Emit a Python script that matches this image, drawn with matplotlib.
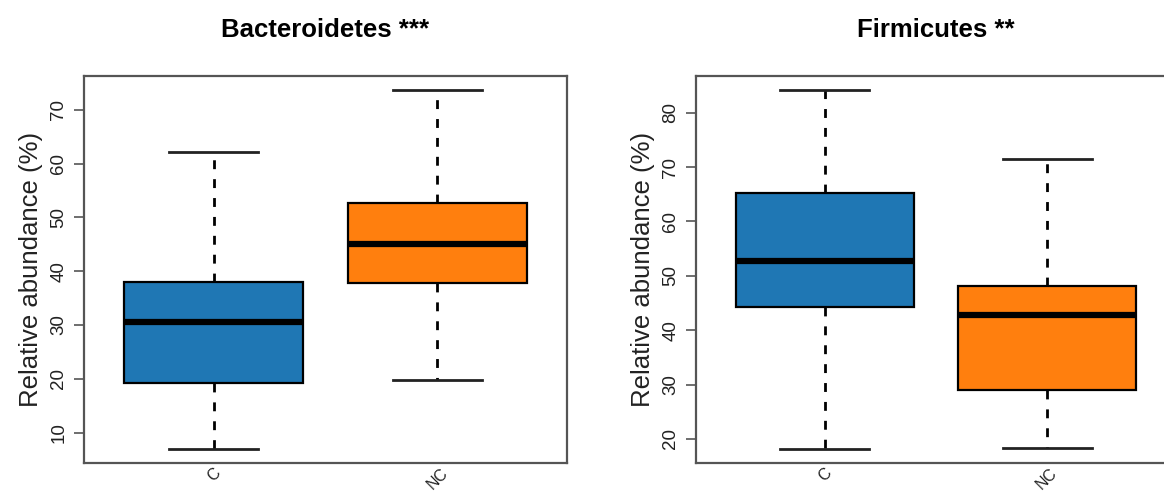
import matplotlib
matplotlib.use('Agg')
import matplotlib.pyplot as plt

plt.rcParams['font.family'] = ['Liberation Sans', 'DejaVu Sans']

groups = ['C', 'NC']
colors = ['#1f77b4', '#ff7f0e']

# Bacteroidetes: whislo, q1, median, q3, whishi
bact_lo = [7.0, 19.8]
bact_q1 = [19.2, 37.7]
bact_med = [30.5, 45.0]
bact_q3 = [38.0, 52.6]
bact_hi = [62.2, 73.6]

# Firmicutes
firm_lo = [18.2, 18.4]
firm_q1 = [44.2, 29.0]
firm_med = [52.8, 42.8]
firm_q3 = [65.2, 48.2]
firm_hi = [84.1, 71.5]

panels = [
    ('Bacteroidetes ***', bact_lo, bact_q1, bact_med, bact_q3, bact_hi, [10, 20, 30, 40, 50, 60, 70]),
    ('Firmicutes **', firm_lo, firm_q1, firm_med, firm_q3, firm_hi, [20, 30, 40, 50, 60, 70, 80]),
]

W, H = 1164, 493
fig = plt.figure(figsize=(W / 100, H / 100), dpi=100)
rects = [(84, 76, 567, 463), (696, 76, 1176, 463)]
spine_col = '#555555'

for (title, lo, q1, med, q3, hi, ticks), (x0, y0, x1, y1) in zip(panels, rects):
    ax = fig.add_axes([x0 / W, (H - y1) / H, (x1 - x0) / W, (y1 - y0) / H])
    stats = []
    for i, g in enumerate(groups):
        stats.append(dict(label=g, whislo=lo[i], q1=q1[i], med=med[i], q3=q3[i], whishi=hi[i], fliers=[]))
    bp = ax.bxp(stats, positions=[1, 2], widths=0.8, patch_artist=True, showfliers=False,
                boxprops=dict(edgecolor='black', linewidth=1.6),
                medianprops=dict(color='black', linewidth=4.5, solid_capstyle='butt'),
                whiskerprops=dict(color='black', linewidth=2, linestyle=(0, (3.2, 3.6))),
                capprops=dict(color='#222222', linewidth=2),
                capwidths=0.4)
    for patch, c in zip(bp['boxes'], colors):
        patch.set_facecolor(c)
    data_min = min(lo)
    data_max = max(hi)
    pad = (data_max - data_min) * 0.04
    ax.set_ylim(data_min - pad, data_max + pad)
    ax.set_xlim(0.42, 2.58)
    ax.set_yticks(ticks)
    ax.set_yticklabels([str(t) for t in ticks], rotation=90, va='center', fontsize=13.5, color='#222222')
    ax.set_xticks([1, 2])
    ax.set_xticklabels(groups, rotation=45, fontsize=11.5, color='#222222', ha='center')
    ax.tick_params(axis='x', length=0, pad=2)
    ax.tick_params(axis='y', length=7, width=1.2, color=spine_col, pad=5)
    for s in ax.spines.values():
        s.set_color(spine_col)
        s.set_linewidth(1.6)
    ax.set_ylabel('Relative abundance (%)', fontsize=18.5, color='#222222', labelpad=5)
    ax.set_title(title, fontsize=18.5, fontweight='bold', pad=28)

fig.savefig('out.png', dpi=100)
